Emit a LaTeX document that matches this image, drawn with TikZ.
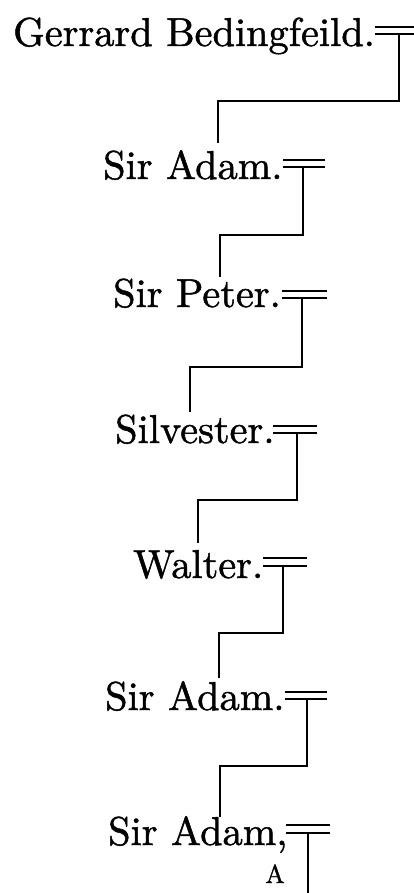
\documentclass[tikz,border=0pt]{standalone}
\usepackage{fontspec}
\newfontfamily\pfont{lmroman10-regular.otf}[FakeBold=1.2]
\begin{document}
\begin{tikzpicture}[x=1pt,y=-1pt,
  person/.style={anchor=base west,inner sep=0pt,font=\pfont\fontsize{40.3}{41}\selectfont},
  note/.style={anchor=base,inner sep=0pt,font=\pfont\fontsize{26}{27}\selectfont},
  bar/.style={line width=1.7pt},
  link/.style={line width=2.2pt,line join=miter}]
\useasboundingbox (0,0) rectangle (414,893);
% persons
\node[person] (p1) at (13,46) {Gerrard Bedingfeild.};
\node[person] (p2) at (103,179) {Sir Adam.};
\node[person] (p3) at (113,307) {Sir Peter.};
\node[person] (p4) at (115,443) {Silvester.};
\node[person] (p5) at (133,578) {Walter.};
\node[person] (p6) at (105,710) {Sir Adam.};
\node[person] (p7) at (108,845) {Sir Adam,};
\node[note] (a7) at (275,883) {A};
% marriage marks
\draw[bar] (375,27) -- (414,27) (375,34) -- (414,34);
\draw[bar] (283,160) -- (325,160) (283,167) -- (325,167);
\draw[bar] (282,291) -- (327,291) (282,298) -- (327,298);
\draw[bar] (273,426) -- (317,426) (273,433) -- (317,433);
\draw[bar] (263,558) -- (307,558) (263,566) -- (307,566);
\draw[bar] (285,692) -- (327,692) (285,699) -- (327,699);
\draw[bar] (286,825) -- (330,825) (286,833) -- (330,833);
% marriage points
\coordinate (m1) at (399,34);
\coordinate (m2) at (303,167);
\coordinate (m3) at (302,298);
\coordinate (m4) at (297,433);
\coordinate (m5) at (283,566);
\coordinate (m6) at (307,699);
\coordinate (m7) at (308,833);
% elbow points and child tops
\coordinate (h1) at (218,101); \coordinate (t2) at (218,143);
\coordinate (h2) at (220,235); \coordinate (t3) at (220,277);
\coordinate (h3) at (190,367); \coordinate (t4) at (190,412);
\coordinate (h4) at (198,500); \coordinate (t5) at (198,543);
\coordinate (h5) at (219,633); \coordinate (t6) at (219,678);
\coordinate (h6) at (220,766); \coordinate (t7) at (220,817);
\coordinate (e7) at (308,893);
% descent lines
\draw[link] (m1) |- (h1) -- (t2);
\draw[link] (m2) |- (h2) -- (t3);
\draw[link] (m3) |- (h3) -- (t4);
\draw[link] (m4) |- (h4) -- (t5);
\draw[link] (m5) |- (h5) -- (t6);
\draw[link] (m6) |- (h6) -- (t7);
\draw[link] (m7) -- (e7);
\end{tikzpicture}
\end{document}
